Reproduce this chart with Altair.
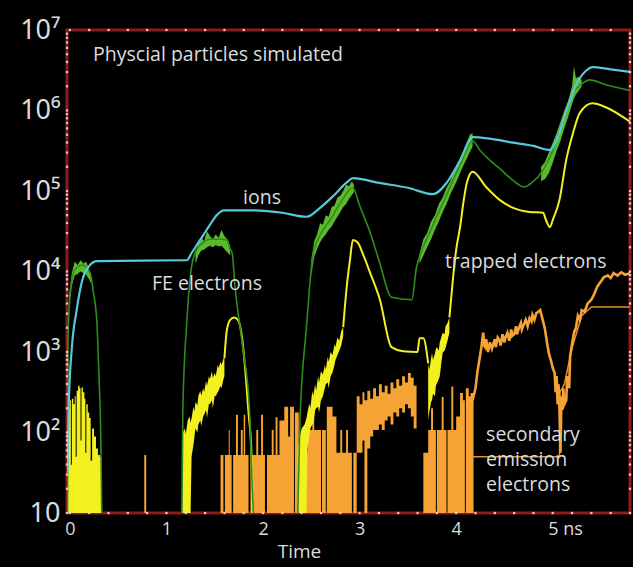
import altair as alt
import pandas as pd

# Particle counts vs time (ns). Values are given as log10 of the count.

# ions: (t, log10 N)
ions = [(-0.025, 1.5), (-0.01, 2.4), (0.02, 3.05), (0.07, 3.52), (0.13, 3.90), (0.20, 4.07),
        (0.28, 4.13), (1.21, 4.14), (1.26, 4.23), (1.32, 4.34), (1.38, 4.45), (1.45, 4.58),
        (1.52, 4.70), (1.60, 4.76), (1.86, 4.76), (2.20, 4.73), (2.45, 4.68), (2.59, 4.79),
        (2.72, 4.93), (2.87, 5.11), (2.93, 5.16), (3.20, 5.10), (3.50, 5.04), (3.76, 4.96),
        (3.90, 5.10), (4.04, 5.38), (4.17, 5.67), (4.35, 5.65), (4.59, 5.60), (4.80, 5.56),
        (4.97, 5.51), (5.04, 5.63), (5.14, 6.00), (5.25, 6.34), (5.35, 6.50), (5.41, 6.54),
        (5.60, 6.51), (5.80, 6.48)]

# FE electrons, smoothed trace (three emission pulses)
fe_1 = [(-0.025, 1.0), (-0.02, 3.15), (0.0, 3.68), (0.05, 4.02), (0.13, 4.08), (0.21, 3.98),
        (0.24, 3.77), (0.28, 3.36), (0.30, 2.74), (0.32, 1.91), (0.33, 1.0)]
fe_2 = [(1.16, 1.0), (1.17, 2.32), (1.21, 3.36), (1.26, 4.06), (1.31, 4.27), (1.37, 4.35),
        (1.45, 4.40), (1.55, 4.40), (1.63, 4.39), (1.65, 4.30), (1.68, 4.23), (1.71, 3.81),
        (1.79, 3.06), (1.86, 2.28), (1.89, 1.25), (1.90, 1.0)]
fe_3 = [(2.36, 1.0), (2.38, 2.07), (2.45, 3.31), (2.52, 4.23), (2.59, 4.45), (2.70, 4.65),
        (2.80, 4.85), (2.93, 5.04), (3.00, 4.82), (3.11, 4.48), (3.21, 4.10), (3.33, 3.68),
        (3.54, 3.65), (3.59, 4.06), (3.62, 4.18), (3.75, 4.55), (3.90, 4.95), (4.05, 5.35),
        (4.17, 5.62), (4.25, 5.50), (4.35, 5.38), (4.45, 5.28), (4.60, 5.12), (4.70, 5.05),
        (4.78, 5.10), (4.90, 5.26), (5.00, 5.50), (5.10, 5.85), (5.20, 6.20), (5.30, 6.33),
        (5.38, 6.38), (5.55, 6.32), (5.80, 6.25)]

# FE electrons, raw noisy envelope: (t, high, low)
fe_noise_1 = [(-0.01, 3.70, 3.55), (0.02, 3.98, 3.82), (0.05, 4.12, 3.95), (0.08, 4.08, 3.97),
              (0.11, 4.14, 4.00), (0.14, 4.10, 3.98), (0.17, 4.12, 3.96), (0.20, 4.02, 3.90),
              (0.22, 3.92, 3.85)]
fe_noise_2 = [(1.30, 4.22, 4.10), (1.33, 4.36, 4.20), (1.36, 4.42, 4.26), (1.39, 4.38, 4.27),
              (1.42, 4.50, 4.30), (1.45, 4.44, 4.32), (1.48, 4.40, 4.30), (1.51, 4.46, 4.33),
              (1.54, 4.42, 4.31), (1.57, 4.52, 4.32), (1.60, 4.44, 4.28), (1.63, 4.40, 4.24),
              (1.66, 4.32, 4.20)]
fe_noise_3 = [(2.50, 4.15, 3.95), (2.53, 4.38, 4.18), (2.56, 4.46, 4.28), (2.59, 4.60, 4.36),
              (2.62, 4.58, 4.42), (2.65, 4.70, 4.46), (2.68, 4.68, 4.52), (2.71, 4.80, 4.56),
              (2.74, 4.82, 4.62), (2.77, 4.92, 4.68), (2.80, 4.94, 4.74), (2.83, 5.00, 4.80),
              (2.86, 5.08, 4.84), (2.89, 5.06, 4.90), (2.92, 5.12, 4.95), (2.94, 5.08, 4.98)]
fe_noise_4 = [(3.62, 4.22, 4.10), (3.66, 4.40, 4.20), (3.70, 4.48, 4.30), (3.74, 4.62, 4.40),
              (3.78, 4.70, 4.52), (3.82, 4.84, 4.62), (3.86, 4.92, 4.74), (3.90, 5.04, 4.84),
              (3.94, 5.12, 4.96), (3.98, 5.26, 5.06), (4.02, 5.34, 5.16), (4.06, 5.46, 5.28),
              (4.10, 5.55, 5.38), (4.14, 5.70, 5.48), (4.17, 5.72, 5.55)]
fe_noise_5 = [(4.88, 5.30, 5.12), (4.92, 5.36, 5.15), (4.96, 5.48, 5.22), (5.00, 5.60, 5.35),
              (5.04, 5.72, 5.50), (5.08, 5.86, 5.62), (5.12, 6.00, 5.78), (5.16, 6.12, 5.92),
              (5.20, 6.30, 6.08), (5.22, 6.55, 6.15), (5.24, 6.40, 6.20), (5.27, 6.42, 6.25),
              (5.30, 6.38, 6.30)]

# trapped electrons, first burst of sparse counts: (t, high, low), drawn as steps
trap_burst = [(-0.02, 2.00, 1.0), (-0.01, 2.30, 1.0), (0.00, 2.40, 1.0), (0.01, 1.60, 1.0),
              (0.02, 2.42, 1.0), (0.035, 2.35, 1.0), (0.05, 2.45, 1.0), (0.06, 1.70, 1.0),
              (0.07, 2.52, 1.0), (0.085, 2.58, 1.0), (0.10, 2.55, 1.0), (0.11, 1.90, 1.0),
              (0.12, 2.56, 1.0), (0.135, 2.50, 1.0), (0.15, 2.42, 1.0), (0.16, 1.75, 1.0),
              (0.17, 2.35, 1.0), (0.185, 2.25, 1.0), (0.20, 2.18, 1.0), (0.215, 1.65, 1.0),
              (0.23, 2.05, 1.0), (0.25, 1.95, 1.0), (0.27, 1.80, 1.0), (0.29, 1.72, 1.0),
              (0.31, 1.70, 1.0), (0.325, 1.0, 1.0)]

# trapped electrons, noisy rising stretches: (t, high, low)
trap_noise_2 = [(1.16, 1.90, 1.0), (1.17, 2.00, 1.0), (1.19, 2.05, 1.0), (1.20, 1.98, 1.0),
                (1.22, 2.15, 1.0), (1.24, 2.20, 1.0), (1.25, 2.12, 1.0), (1.26, 2.18, 1.70),
                (1.28, 2.32, 1.85), (1.29, 2.26, 1.95), (1.30, 2.38, 2.05), (1.32, 2.34, 2.00),
                (1.33, 2.45, 2.10), (1.35, 2.52, 2.15), (1.36, 2.46, 2.08), (1.38, 2.55, 2.20),
                (1.39, 2.50, 2.22), (1.41, 2.64, 2.28), (1.42, 2.58, 2.18), (1.44, 2.70, 2.36),
                (1.45, 2.66, 2.35), (1.47, 2.76, 2.40), (1.48, 2.68, 2.30), (1.50, 2.74, 2.46),
                (1.51, 2.70, 2.45), (1.53, 2.84, 2.50), (1.54, 2.80, 2.52), (1.56, 2.88, 2.58),
                (1.57, 2.84, 2.55), (1.59, 2.92, 2.66), (1.60, 2.92, 2.70)]
trap_noise_3 = [(2.36, 1.80, 1.0), (2.38, 1.95, 1.0), (2.40, 2.05, 1.0), (2.43, 2.10, 1.0),
                (2.45, 2.18, 1.0), (2.46, 2.25, 1.80), (2.48, 2.36, 1.95), (2.49, 2.30, 2.05),
                (2.51, 2.52, 2.10), (2.52, 2.45, 2.10), (2.54, 2.60, 2.28), (2.55, 2.52, 2.30),
                (2.57, 2.70, 2.32), (2.58, 2.62, 2.25), (2.60, 2.76, 2.40), (2.62, 2.72, 2.45),
                (2.64, 2.84, 2.55), (2.65, 2.78, 2.60), (2.67, 2.94, 2.62), (2.68, 2.88, 2.55),
                (2.70, 3.00, 2.70), (2.72, 2.96, 2.75), (2.74, 3.10, 2.84), (2.75, 3.06, 2.90),
                (2.77, 3.18, 2.96), (2.79, 3.14, 3.02), (2.81, 3.26, 3.08), (2.83, 3.31, 3.20)]
trap_noise_4 = [(3.71, 2.86, 2.15), (3.72, 2.78, 2.25), (3.73, 2.84, 2.30), (3.74, 2.92, 2.38),
                (3.75, 2.99, 2.40), (3.76, 2.90, 2.48), (3.78, 2.98, 2.45), (3.79, 3.04, 2.58),
                (3.80, 3.06, 2.61), (3.82, 3.02, 2.66), (3.83, 3.12, 2.70), (3.85, 3.20, 2.90),
                (3.86, 3.24, 2.99), (3.88, 3.22, 3.02), (3.89, 3.32, 3.05), (3.91, 3.36, 3.14),
                (3.93, 3.43, 3.24)]

# trapped electrons, smooth stretches
trap_1 = [(1.60, 2.92), (1.625, 3.27), (1.66, 3.40), (1.70, 3.43), (1.74, 3.40), (1.78, 3.20),
          (1.81, 2.86), (1.85, 2.24), (1.88, 1.75), (1.89, 1.0)]
trap_2 = [(2.83, 3.31), (2.87, 3.85), (2.90, 4.14), (2.93, 4.39), (2.98, 4.36), (3.04, 4.20),
          (3.11, 3.98), (3.21, 3.65), (3.33, 3.06), (3.45, 3.01), (3.60, 3.00), (3.62, 3.17),
          (3.66, 3.17), (3.71, 2.86)]
trap_3 = [(3.93, 3.43), (3.97, 3.95), (4.00, 4.27), (4.04, 4.55), (4.08, 4.90), (4.11, 5.10),
          (4.17, 5.24), (4.31, 5.05), (4.45, 4.89), (4.59, 4.79), (4.76, 4.74), (4.90, 4.73),
          (4.93, 4.64), (4.97, 4.55), (5.00, 4.64), (5.07, 4.89), (5.14, 5.39), (5.21, 5.72),
          (5.28, 5.97), (5.41, 6.09), (5.55, 6.04), (5.80, 5.86)]

# secondary emission electrons, sparse counts: (t, high, low), drawn as steps
sec_sparse = [(-0.03, 1.0, 1.0), (0.77, 1.72, 1.0), (0.79, 1.0, 1.0), (1.56, 1.72, 1.0),
              (1.59, 1.0, 1.0), (1.605, 1.72, 1.0), (1.645, 2.03, 1.0), (1.655, 1.72, 1.0),
              (1.675, 1.0, 1.0), (1.69, 1.72, 1.0), (1.72, 2.22, 1.0), (1.74, 1.72, 1.0),
              (1.77, 2.03, 1.0), (1.79, 1.72, 1.0), (1.80, 2.22, 1.0), (1.815, 1.72, 1.0),
              (1.85, 1.0, 1.0), (1.87, 1.72, 1.0), (1.93, 2.03, 1.0), (1.95, 1.72, 1.0),
              (1.98, 2.22, 1.0), (2.00, 1.72, 1.0), (2.02, 1.0, 1.0), (2.04, 1.72, 1.0),
              (2.09, 2.03, 1.0), (2.11, 1.72, 1.0), (2.13, 2.19, 1.0), (2.15, 1.72, 1.0),
              (2.17, 2.15, 1.0), (2.22, 2.32, 1.0), (2.26, 1.95, 1.0), (2.28, 2.32, 1.0),
              (2.32, 1.0, 1.0), (2.33, 2.25, 1.0), (2.37, 1.75, 1.0), (2.46, 2.03, 1.0),
              (2.51, 2.30, 1.0), (2.53, 2.03, 1.0), (2.60, 1.0, 1.0), (2.61, 2.03, 1.0),
              (2.65, 1.0, 1.0), (2.66, 2.32, 1.0), (2.72, 2.20, 1.0), (2.76, 1.75, 1.0),
              (2.80, 2.03, 1.0), (2.82, 1.75, 1.0), (2.86, 2.03, 1.0), (2.88, 1.75, 1.0),
              (2.92, 1.0, 1.0), (2.935, 1.75, 1.0), (2.97, 2.45, 1.75), (3.00, 2.35, 1.75),
              (3.03, 2.50, 1.90), (3.05, 2.40, 1.0), (3.08, 2.52, 1.80), (3.11, 2.42, 1.95),
              (3.14, 2.55, 2.03), (3.17, 2.45, 2.03), (3.20, 2.60, 2.10), (3.23, 2.50, 2.03),
              (3.26, 2.58, 2.15), (3.29, 2.48, 2.20), (3.32, 2.62, 2.10), (3.35, 2.55, 2.25),
              (3.38, 2.66, 2.20), (3.41, 2.58, 2.30), (3.44, 2.70, 2.25), (3.47, 2.62, 2.35),
              (3.50, 2.74, 2.30), (3.53, 2.68, 2.20), (3.56, 2.58, 2.05), (3.59, 1.0, 1.0),
              (3.66, 1.75, 1.0), (3.71, 2.03, 1.0), (3.74, 2.30, 1.0), (3.76, 2.03, 1.0),
              (3.79, 1.0, 1.0), (3.80, 2.03, 1.0), (3.85, 2.44, 1.0), (3.87, 2.03, 1.0),
              (3.90, 1.0, 1.0), (3.91, 2.03, 1.0), (3.95, 2.57, 1.0), (3.97, 2.03, 1.0),
              (4.00, 2.20, 1.0), (4.04, 2.49, 1.0), (4.07, 2.40, 1.0), (4.09, 1.0, 1.0),
              (4.10, 2.55, 1.0), (4.13, 2.45, 1.0), (4.16, 2.49, 1.0), (4.18, 1.0, 1.0)]

# secondary emission electrons, continuous trace after 4.17 ns
sec_main = [(4.16, 2.49), (4.17, 2.40), (4.20, 2.55), (4.22, 2.75), (4.24, 2.90), (4.26, 3.05),
            (4.28, 3.24), (4.29, 3.08), (4.30, 3.06), (4.31, 3.16), (4.33, 3.00), (4.35, 3.12),
            (4.37, 3.04), (4.38, 3.08), (4.40, 3.16), (4.41, 3.06), (4.43, 3.18), (4.45, 3.14),
            (4.46, 3.08), (4.48, 3.22), (4.50, 3.12), (4.51, 3.18), (4.53, 3.24), (4.55, 3.14),
            (4.57, 3.28), (4.58, 3.20), (4.60, 3.22), (4.62, 3.32), (4.63, 3.22), (4.65, 3.30),
            (4.67, 3.36), (4.68, 3.28), (4.70, 3.34), (4.72, 3.40), (4.74, 3.32), (4.76, 3.42),
            (4.78, 3.38), (4.79, 3.46), (4.81, 3.40), (4.83, 3.48), (4.85, 3.50), (4.87, 3.52),
            (4.90, 3.38), (4.92, 3.28), (4.94, 3.12), (4.96, 2.98), (4.98, 2.90), (5.00, 2.80),
            (5.02, 2.74), (5.03, 2.50), (5.04, 2.70), (5.05, 2.35), (5.06, 2.60), (5.07, 2.28),
            (5.08, 1.75), (5.09, 2.45), (5.10, 2.28), (5.11, 2.55), (5.12, 2.35), (5.14, 2.40),
            (5.15, 2.70), (5.17, 2.55), (5.18, 2.95), (5.20, 3.10), (5.22, 3.24), (5.24, 3.30),
            (5.26, 3.45), (5.28, 3.40), (5.30, 3.52), (5.33, 3.50), (5.36, 3.60), (5.40, 3.65),
            (5.43, 3.72), (5.46, 3.81), (5.50, 3.88), (5.53, 3.93), (5.57, 3.95), (5.60, 3.92),
            (5.63, 3.98), (5.67, 3.95), (5.71, 3.99), (5.75, 3.96), (5.80, 3.98)]

# secondary emission electrons, averaged trace
sec_avg = [(4.17, 1.70), (5.07, 1.70), (5.075, 2.50), (5.12, 2.60), (5.20, 3.05), (5.30, 3.45),
           (5.40, 3.56), (5.80, 3.56)]

# annotations: (text, t, log10 N)
notes_left = [("Physcial particles simulated", 0.24, 6.69),
              ("secondary", 4.31, 1.97), ("emission", 4.31, 1.66), ("electrons", 4.31, 1.35)]
notes_center = [("ions", 1.99, 4.91), ("FE electrons", 1.42, 3.84),
                ("trapped electrons", 4.72, 4.12)]

y_label_text = {10: "10", 100: "10²", 1000: "10³", 10000: "10⁴", 100000: "10⁵",
                1000000: "10⁶", 10000000: "10⁷"}
x_label_values = [0, 1, 2, 3, 4, 5]

BG = "black"
CYAN = "#55c9d8"
GREEN = "#2e8d1e"
LIME = "#5db82c"
YELLOW = "#f3f020"
ORANGE = "#f5a334"
FRAME = "#8e1b1b"
DOT = "#eadcdc"
TEXT = "#dcdcdc"
FONT = "Open Sans"


def line_frame(*segments):
    rows = []
    for k, seg in enumerate(segments):
        rows += [{"t": t, "v": 10 ** e, "seg": k} for t, e in seg]
    return pd.DataFrame(rows)


def band_frame(*segments):
    rows = []
    for k, seg in enumerate(segments):
        rows += [{"t": t, "hi": 10 ** h, "lo": 10 ** l, "seg": k} for t, h, l in seg]
    return pd.DataFrame(rows)


XS = alt.Scale(domain=[-0.03, 5.80], nice=False, zero=False)
YS = alt.Scale(type="log", domain=[10, 1e7], nice=False)

label_expr = " : ".join(
    f"datum.value < {v * 3} ? '{s}'" for v, s in y_label_text.items()
) + " : ''"

X_AXIS = alt.Axis(
    values=x_label_values, ticks=False, domain=False, grid=False,
    labelExpr="datum.value == 5 ? '5 ns' : '' + datum.value",
    labelAlign={"condition": {"test": "datum.value == 5", "value": "left"}, "value": "center"},
    labelOffset={"condition": {"test": "datum.value == 5", "value": -5}, "value": 0},
    labelFontSize=18, labelColor=TEXT, labelFont=FONT, labelPadding=7,
    title="Time", titleFontSize=19, titleColor=TEXT, titleFont=FONT,
    titleFontWeight="normal", titlePadding=4, titleX=232, titleAlign="center",
)
Y_AXIS = alt.Axis(
    values=list(y_label_text.keys()), ticks=False, domain=False, grid=False,
    labelExpr=label_expr, labelFontSize=27, labelColor=TEXT, labelFont="Noto Sans",
    labelPadding=7, title=None,
)


def X(field="t"):
    return alt.X(f"{field}:Q", scale=XS, axis=X_AXIS, title="Time")


def Y(field):
    return alt.Y(f"{field}:Q", scale=YS, axis=Y_AXIS, title=None)


sec_fill = (
    alt.Chart(band_frame(sec_sparse))
    .mark_area(interpolate="step-after", color=ORANGE, clip=True)
    .encode(x=X(), y=Y("hi"), y2="lo:Q", detail="seg:N")
)
sec_main_line = (
    alt.Chart(line_frame(sec_main))
    .mark_line(color=ORANGE, strokeWidth=2.6, clip=True)
    .encode(x=X(), y=Y("v"))
)
sec_avg_line = (
    alt.Chart(line_frame(sec_avg))
    .mark_line(color="#e0902c", strokeWidth=1.5, clip=True)
    .encode(x=X(), y=Y("v"))
)
trap_burst_fill = (
    alt.Chart(band_frame(trap_burst))
    .mark_area(interpolate="step-after", color=YELLOW, clip=True)
    .encode(x=X(), y=Y("hi"), y2="lo:Q")
)
trap_fill = (
    alt.Chart(band_frame(trap_noise_2, trap_noise_3, trap_noise_4))
    .mark_area(color=YELLOW, clip=True)
    .encode(x=X(), y=Y("hi"), y2="lo:Q", detail="seg:N")
)
trap_line = (
    alt.Chart(line_frame(trap_1, trap_2, trap_3))
    .mark_line(color=YELLOW, strokeWidth=2, interpolate="monotone", clip=True)
    .encode(x=X(), y=Y("v"), detail="seg:N")
)
fe_fill = (
    alt.Chart(band_frame(fe_noise_1, fe_noise_2, fe_noise_3, fe_noise_4, fe_noise_5))
    .mark_area(color=LIME, clip=True)
    .encode(x=X(), y=Y("hi"), y2="lo:Q", detail="seg:N")
)
fe_line = (
    alt.Chart(line_frame(fe_1, fe_2, fe_3))
    .mark_line(color=GREEN, strokeWidth=1.6, interpolate="monotone", clip=True)
    .encode(x=X(), y=Y("v"), detail="seg:N")
)
ion_line = (
    alt.Chart(line_frame(ions))
    .mark_line(color=CYAN, strokeWidth=2.2, interpolate="monotone", clip=True)
    .encode(x=X(), y=Y("v"))
)

# small tick dots along the frame
x_dots = pd.DataFrame({"t": [i / 5 for i in range(29)]})
y_dots = pd.DataFrame({"v": [m * 10 ** k for k in range(1, 7) for m in range(1, 10)]})
dot_mark = dict(shape="square", filled=True, size=5, color=DOT, opacity=0.9)
dots_bottom = alt.Chart(x_dots).mark_point(**dot_mark).encode(x=X(), y=alt.datum(10))
dots_top = alt.Chart(x_dots).mark_point(**dot_mark).encode(x=X(), y=alt.datum(1e7))
dots_left = alt.Chart(y_dots).mark_point(**dot_mark).encode(x=alt.datum(-0.03), y=Y("v"))
dots_right = alt.Chart(y_dots).mark_point(**dot_mark).encode(x=alt.datum(5.80), y=Y("v"))


def notes_frame(notes):
    return pd.DataFrame([{"text": s, "t": t, "v": 10 ** e} for s, t, e in notes])


text_style = dict(color=TEXT, font=FONT, fontSize=19.5, baseline="middle")
notes_l = (
    alt.Chart(notes_frame(notes_left))
    .mark_text(align="left", **text_style)
    .encode(x=X(), y=Y("v"), text="text:N")
)
notes_c = (
    alt.Chart(notes_frame(notes_center))
    .mark_text(align="center", **text_style)
    .encode(x=X(), y=Y("v"), text="text:N")
)

chart = (
    alt.layer(
        sec_fill, sec_avg_line, sec_main_line, trap_burst_fill, trap_fill, trap_line,
        fe_fill, fe_line, ion_line, dots_bottom, dots_top, dots_left, dots_right,
        notes_l, notes_c,
    )
    .properties(
        width=563, height=483,
        autosize=alt.AutoSizeParams(type="none"),
        padding={"left": 67, "top": 30, "right": 3, "bottom": 54},
        background=BG,
    )
    .configure_view(stroke=FRAME, strokeWidth=3)
)

chart.save("out.html", embed_options={"renderer": "svg", "actions": False})
